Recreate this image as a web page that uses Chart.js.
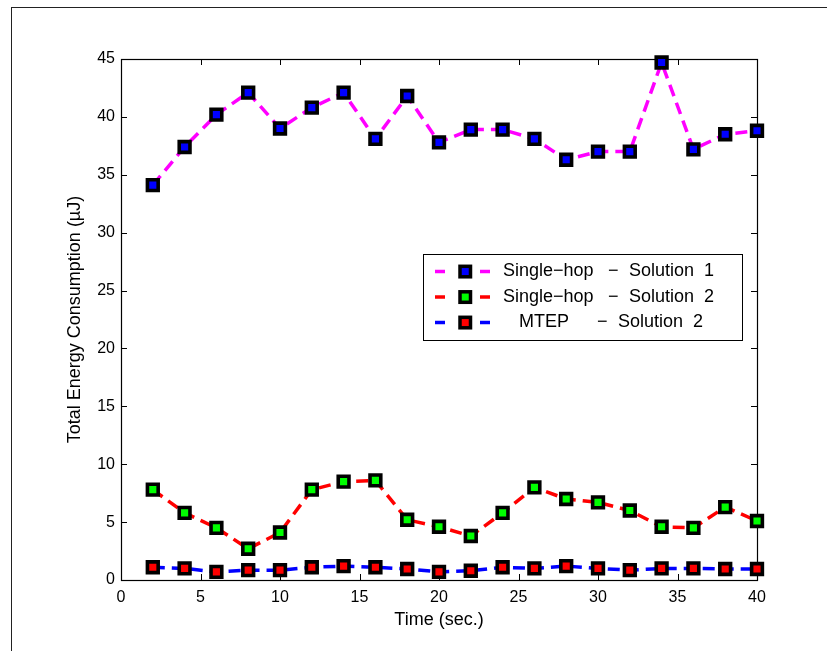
<!DOCTYPE html>
<html>
<head>
<meta charset="utf-8">
<script src="https://cdn.jsdelivr.net/npm/chart.js"></script>
<style>
  body { margin: 0; background: #fff; }
</style>
</head>
<body>
<canvas id="grafico" width="827" height="651"></canvas>
<script>
// tempos (s) e consumo (uJ)
const tempos = [2, 4, 6, 8, 10, 12, 14, 16, 18, 20, 22, 24, 26, 28, 30, 32, 34, 36, 38, 40];
const singleHop1 = [34.1, 37.4, 40.2, 42.1, 39.0, 40.8, 42.1, 38.1, 41.8, 37.8, 38.9, 38.9, 38.1, 36.3, 37.0, 37.0, 44.7, 37.2, 38.5, 38.8];
const singleHop2 = [7.8, 5.8, 4.5, 2.7, 4.1, 7.8, 8.5, 8.6, 5.2, 4.6, 3.8, 5.8, 8.0, 7.0, 6.7, 6.0, 4.6, 4.5, 6.3, 5.1];
const mtep2 = [1.1, 1.0, 0.7, 0.85, 0.85, 1.1, 1.2, 1.1, 0.95, 0.7, 0.8, 1.1, 1.0, 1.2, 1.0, 0.85, 1.0, 1.0, 0.95, 0.95];
const rotulos = ["Single\u2212hop \u2212 Solution 1", "Single\u2212hop \u2212 Solution 2", "MTEP \u2212 Solution 2"];
const ticksX = [0, 5, 10, 15, 20, 25, 30, 35, 40];
const ticksY = [0, 5, 10, 15, 20, 25, 30, 35, 40, 45];

const FONTE = "'Liberation Sans', Arial, Helvetica, sans-serif";

function pontos(valores) {
  return tempos.map((t, i) => ({ x: t, y: valores[i] }));
}

function serie(label, valores, cor, miolo) {
  return {
    label: label,
    data: pontos(valores),
    borderColor: cor,
    borderWidth: 3.5,
    borderDash: [12, 7],
    pointStyle: 'rect',
    pointRadius: 7.6,
    pointHoverRadius: 7.6,
    pointBackgroundColor: miolo,
    pointBorderColor: '#000',
    pointBorderWidth: 3.6,
    tension: 0,
    clip: false,
  };
}

// moldura, eixos com ticks para dentro e legenda no meio do grafico
const estilo = {
  id: 'estilo',
  beforeDraw(chart) {
    const ctx = chart.ctx;
    ctx.save();
    ctx.fillStyle = '#fff';
    ctx.fillRect(0, 0, chart.width, chart.height);
    ctx.strokeStyle = '#222';
    ctx.lineWidth = 1;
    ctx.strokeRect(11.5, 7.5, 1000, 1000);
    ctx.restore();
  },
  beforeDatasetsDraw(chart) {
    const ctx = chart.ctx;
    const a = chart.chartArea;
    const sx = chart.scales.x, sy = chart.scales.y;
    ctx.save();
    ctx.strokeStyle = '#000';
    ctx.lineWidth = 1;
    ctx.beginPath();
    ticksX.forEach(v => {
      const px = Math.round(sx.getPixelForValue(v)) + 0.5;
      ctx.moveTo(px, a.bottom); ctx.lineTo(px, a.bottom - 6);
      ctx.moveTo(px, a.top); ctx.lineTo(px, a.top + 6);
    });
    ticksY.forEach(v => {
      const py = Math.round(sy.getPixelForValue(v)) + 0.5;
      ctx.moveTo(a.left, py); ctx.lineTo(a.left + 6, py);
      ctx.moveTo(a.right, py); ctx.lineTo(a.right - 6, py);
    });
    ctx.stroke();
    ctx.lineWidth = 1.2;
    ctx.strokeRect(Math.round(a.left) + 0.5, Math.round(a.top) + 0.5,
                   Math.round(a.right - a.left), Math.round(a.bottom - a.top));
    ctx.restore();
  },
  afterDatasetsDraw(chart) {
    const ctx = chart.ctx;
    ctx.save();
    ctx.fillStyle = '#fff';
    ctx.fillRect(423.5, 254.5, 319, 86);
    ctx.strokeStyle = '#000';
    ctx.lineWidth = 1;
    ctx.strokeRect(423.5, 254.5, 319, 86);
    const linhas = [271.5, 297, 322.5];
    const xNome = [503, 503, 519];
    const xTraco = [608, 608, 597];
    const xSol = [629, 629, 618];
    ctx.font = '18px ' + FONTE;
    ctx.textBaseline = 'middle';
    chart.data.datasets.forEach((ds, i) => {
      const y = linhas[i];
      ctx.strokeStyle = ds.borderColor;
      ctx.lineWidth = 3.5;
      ctx.setLineDash([10, 35]);
      ctx.beginPath();
      ctx.moveTo(435, y); ctx.lineTo(491, y);
      ctx.stroke();
      ctx.setLineDash([]);
      ctx.fillStyle = ds.pointBackgroundColor;
      ctx.strokeStyle = '#000';
      ctx.lineWidth = 3.5;
      ctx.fillRect(460, y - 5.2, 10.5, 10.5);
      ctx.strokeRect(460, y - 5.2, 10.5, 10.5);
      const partes = ds.label.split(' \u2212 ');
      ctx.fillStyle = '#000';
      ctx.fillText(partes[0], xNome[i], y);
      ctx.fillText('\u2212', xTraco[i], y);
      ctx.fillText(partes[1].replace(' ', '  '), xSol[i], y);
    });
    ctx.restore();
  }
};

Chart.defaults.font.family = FONTE;
Chart.defaults.color = '#000';

new Chart(document.getElementById("grafico"), {
  type: 'line',
  data: {
    datasets: [
      serie(rotulos[0], singleHop1, '#ff00ff', '#0000ff'),
      serie(rotulos[1], singleHop2, '#ff0000', '#00ff00'),
      serie(rotulos[2], mtep2, '#0000ff', '#ff0000'),
    ],
  },
  options: {
    responsive: false,
    animation: false,
    layout: {
      padding: { top: 59, right: 70, left: 0, bottom: 0 },
    },
    plugins: {
      legend: { display: false },
      tooltip: { enabled: false },
    },
    scales: {
      x: {
        type: 'linear',
        min: 0,
        max: 40,
        afterFit(scale) { scale.height = 71; },
        afterBuildTicks(scale) { scale.ticks = ticksX.map(v => ({ value: v })); },
        grid: { display: false, drawTicks: false },
        border: { display: false },
        ticks: { padding: 8, font: { size: 16 }, color: '#000' },
        title: {
          display: true,
          text: 'Time (sec.)',
          font: { size: 18 },
          color: '#000',
          padding: { top: 0, bottom: 20 },
        },
      },
      y: {
        min: 0,
        max: 45,
        afterFit(scale) { scale.width = 121; },
        afterBuildTicks(scale) { scale.ticks = ticksY.map(v => ({ value: v })); },
        grid: { display: false, drawTicks: false },
        border: { display: false },
        ticks: { padding: 6, font: { size: 16 }, color: '#000' },
        title: {
          display: true,
          text: 'Total Energy Consumption (\u00b5J)',
          font: { size: 18 },
          color: '#000',
          padding: { top: 64, bottom: 0 },
        },
      },
    },
  },
  plugins: [estilo],
});
</script>
</body>
</html>
